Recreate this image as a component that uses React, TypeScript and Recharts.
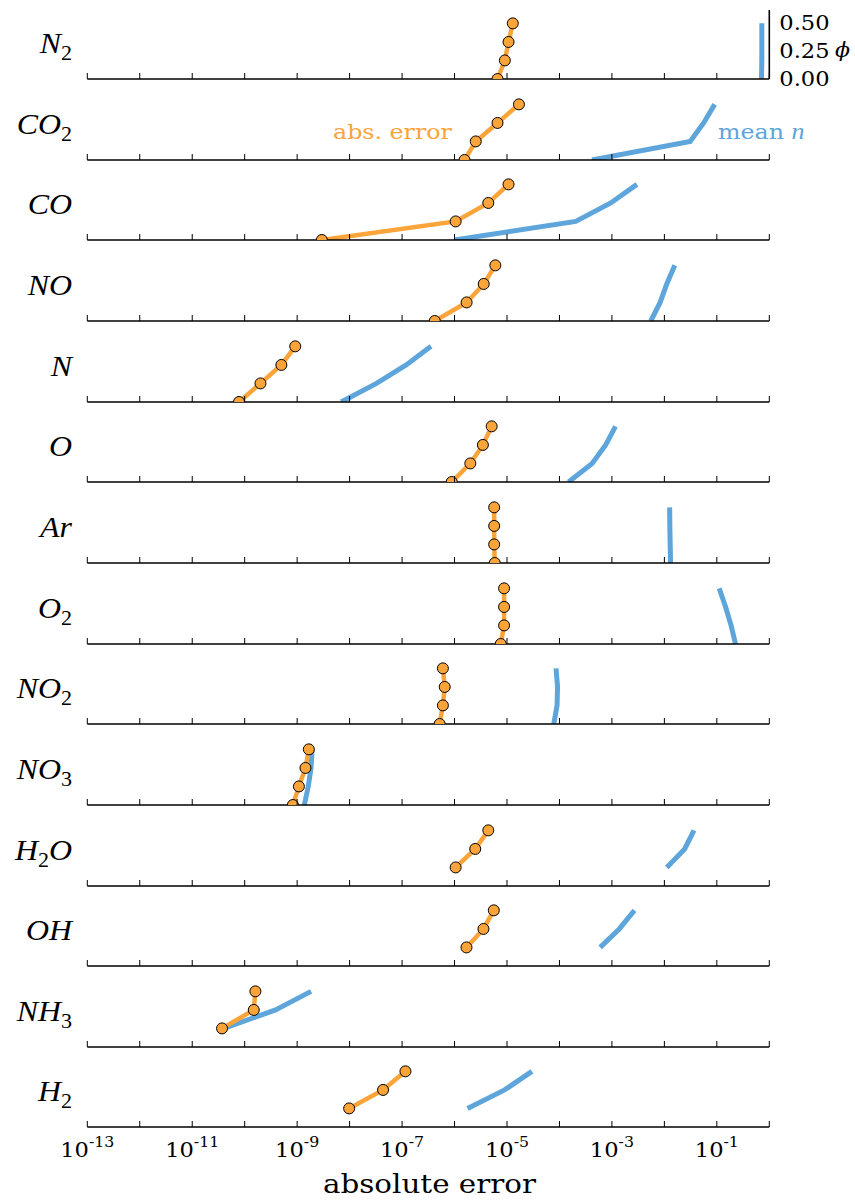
import React from 'react';
import { LineChart, Line, XAxis, YAxis } from 'recharts';

// ---------- data ----------
const species = ['N2', 'CO2', 'CO', 'NO', 'N', 'O', 'Ar', 'O2', 'NO2', 'NO3', 'H2O', 'OH', 'NH3', 'H2'];

const phiFull = [0, 0.167, 0.333, 0.5];
const phiUpper = [0.167, 0.333, 0.5];

// absolute error (orange)
const errN2 = [6.6e-6, 9.1e-6, 1.07e-5, 1.29e-5];
const errCO2 = [1.55e-6, 2.54e-6, 6.6e-6, 1.69e-5];
const errCO = [2.96e-9, 1.05e-6, 4.4e-6, 1.07e-5];
const errNO = [4.2e-7, 1.7e-6, 3.6e-6, 6.0e-6];
const errN = [7.8e-11, 2.0e-10, 5.0e-10, 9.2e-10];
const errO = [8.85e-7, 2.0e-6, 3.47e-6, 5.1e-6];
const errAr = [5.85e-6, 5.7e-6, 5.7e-6, 5.7e-6];
const errO2 = [7.6e-6, 8.8e-6, 8.8e-6, 8.8e-6];
const errNO2 = [5.2e-7, 6.0e-7, 6.5e-7, 6.0e-7];
const errNO3 = [8.3e-10, 1.08e-9, 1.44e-9, 1.67e-9];
const errH2O = [1.05e-6, 2.48e-6, 4.4e-6];
const errOH = [1.69e-6, 3.56e-6, 5.6e-6];
const errNH3 = [3.7e-11, 1.49e-10, 1.6e-10];
const errH2 = [9.8e-9, 4.34e-8, 1.16e-7];

// mean n (blue)
const nN2 = [0.71, 0.72, 0.72, 0.72];
const nCO2 = [4.17e-4, 0.031, 0.056, 0.091];
const nCO = [1.0e-6, 2.04e-4, 9.5e-4, 3.0e-3];
const nNO = [5.5e-3, 8.3e-3, 0.0111, 0.0158];
const nN = [6.9e-9, 3.25e-8, 1.2e-7, 3.56e-7];
const nO = [1.49e-4, 4.2e-4, 7.6e-4, 1.17e-3];
const nAr = [0.0131, 0.0129, 0.0127, 0.0126];
const nO2 = [0.227, 0.187, 0.147, 0.111];
const nNO2 = [7.8e-5, 9.0e-5, 9.2e-5, 8.6e-5];
const nNO3 = [1.37e-9, 1.63e-9, 1.84e-9, 1.93e-9];
const nH2O = [0.0111, 0.0244, 0.0367];
const nOH = [5.97e-4, 1.38e-3, 2.69e-3];
const nNH3 = [4.0e-11, 3.87e-10, 1.84e-9];
const nH2 = [1.77e-6, 9.0e-6, 2.99e-5];

const phiSets = [phiFull, phiFull, phiFull, phiFull, phiFull, phiFull, phiFull, phiFull, phiFull, phiFull, phiUpper, phiUpper, phiUpper, phiUpper];
const errSets = [errN2, errCO2, errCO, errNO, errN, errO, errAr, errO2, errNO2, errNO3, errH2O, errOH, errNH3, errH2];
const nSets = [nN2, nCO2, nCO, nNO, nN, nO, nAr, nO2, nNO2, nNO3, nH2O, nOH, nNH3, nH2];

const xTicks = [1e-13, 1e-12, 1e-11, 1e-10, 1e-9, 1e-8, 1e-7, 1e-6, 1e-5, 1e-4, 1e-3, 1e-2, 1e-1, 1];
const xTickExponents = ['-13', '', '-11', '', '-9', '', '-7', '', '-5', '', '-3', '', '-1', ''];
const yTicks = [0, 0.25, 0.5];
const yTickLabels = ['0.00', '0.25', '0.50'];

// ---------- style ----------
const ORANGE = '#FAA43A';
const BLUE = '#5DA5DA';
const SERIF = "'DejaVu Serif', serif";
const MATH = "'Liberation Serif', serif";
const SX = 1.13;

const W = 855;
const PLOT_L = 87.3;
const PLOT_R = 769.3;
const BASE0 = 79;
const STEP = 80.65;
const PH = 69;
const MT = 4;

const renderXTick = (props: any, showLabels: boolean) => {
  const { x, y, index } = props;
  const exp = xTickExponents[index];
  return (
    <g>
      <line x1={x} x2={x} y1={y} y2={y - 6} stroke="#000" strokeWidth={1} />
      {showLabels && exp !== '' && (
        <g transform={`translate(${x},${y + 29.5}) scale(${SX},1)`}>
          <text x={0} y={0} textAnchor="middle" fontFamily={SERIF} fontSize={20} fill="#000">
            10
            <tspan fontSize={14} dy={-10}>{exp}</tspan>
          </text>
        </g>
      )}
    </g>
  );
};

const renderYTick = (props: any) => {
  const { x, y, index } = props;
  return (
    <g transform={`translate(${x + 10},${y + 7}) scale(${SX},1)`}>
      <text x={0} y={0} textAnchor="start" fontFamily={SERIF} fontSize={20} fill="#000">
        {yTickLabels[index]}
      </text>
    </g>
  );
};

function Panel({ i }: { i: number }) {
  const isFirst = i === 0;
  const isLast = i === species.length - 1;
  const xh = isLast ? 50 : isFirst ? 14 : 2;
  const base = BASE0 + i * STEP;
  const top = base - PH - MT;
  const height = MT + PH + xh;
  const phi = phiSets[i];
  const errData = phi.map((f, k) => ({ x: errSets[i][k], y: f }));
  const nData = phi.map((f, k) => ({ x: nSets[i][k], y: f }));
  return (
    <div style={{ position: 'absolute', left: 0, top, width: W, height }}>
      <LineChart
        width={W}
        height={height}
        margin={{ top: MT, left: PLOT_L, right: isFirst ? W - PLOT_R - 60 : W - PLOT_R, bottom: 0 }}
      >
        <XAxis
          dataKey="x"
          type="number"
          scale="log"
          domain={[1e-13, 1]}
          allowDataOverflow
          ticks={xTicks}
          interval={0}
          tickSize={0}
          tickMargin={0}
          height={xh}
          axisLine={{ stroke: '#000', strokeWidth: 1.6 }}
          tickLine={false}
          tick={(p: any) => renderXTick(p, isLast)}
        />
        <YAxis
          type="number"
          domain={[0, 0.62]}
          allowDataOverflow
          hide={!isFirst}
          orientation="right"
          ticks={yTicks}
          interval={0}
          width={60}
          tickSize={0}
          tickMargin={0}
          axisLine={{ stroke: '#000', strokeWidth: 1.6 }}
          tickLine={false}
          tick={renderYTick}
        />
        <Line
          data={nData}
          dataKey="y"
          stroke={BLUE}
          strokeWidth={5}
          dot={false}
          activeDot={false}
          isAnimationActive={false}
        />
        <Line
          data={errData}
          dataKey="y"
          stroke={ORANGE}
          strokeWidth={4.5}
          dot={{ r: 5.5, fill: ORANGE, stroke: '#000', strokeWidth: 1 }}
          activeDot={false}
          isAnimationActive={false}
        />
      </LineChart>
    </div>
  );
}

function SpeciesLabel({ name, base }: { name: string; base: number }) {
  const parts = name.match(/[A-Za-z]+|\d+/g) || [];
  let prevSub = false;
  return (
    <g transform={`translate(72,${base - 26}) scale(1.1,1)`}>
      <text x={0} y={0} textAnchor="end" fontFamily={MATH} fontSize={29} fontStyle="italic" fill="#000">
        {parts.map((s, k) => {
          const isSub = /\d/.test(s);
          const dy = isSub ? 7 : prevSub ? -7 : 0;
          prevSub = isSub;
          return isSub ? (
            <tspan key={k} fontStyle="normal" fontSize={20} dy={dy}>{s}</tspan>
          ) : (
            <tspan key={k} dy={dy}>{s}</tspan>
          );
        })}
      </text>
    </g>
  );
}

export default function App() {
  const lastBase = BASE0 + (species.length - 1) * STEP;
  return (
    <div style={{ position: 'absolute', left: 0, top: 0, width: W, height: 1200, background: '#fff' }}>
      {species.map((s, i) => (
        <Panel key={s} i={i} />
      ))}
      <svg
        width={W}
        height={1200}
        style={{ position: 'absolute', left: 0, top: 0, pointerEvents: 'none' }}
      >
        {species.map((s, i) => (
          <SpeciesLabel key={s} name={s} base={BASE0 + i * STEP} />
        ))}
        <g transform={`translate(333,139.3) scale(${SX},1)`}>
          <text x={0} y={0} fontFamily={SERIF} fontSize={21} fill={ORANGE}>abs. error</text>
        </g>
        <g transform={`translate(718,139.3) scale(${SX},1)`}>
          <text x={0} y={0} fontFamily={SERIF} fontSize={21} fill={BLUE}>
            mean <tspan fontFamily={MATH} fontStyle="italic" fontSize={23}>n</tspan>
          </text>
        </g>
        <g transform={`translate(835,57) scale(1.05,1)`}>
          <text x={0} y={0} fontFamily={SERIF} fontStyle="italic" fontSize={21} fill="#000">ϕ</text>
        </g>
        <g transform={`translate(429.5,${lastBase + 66}) scale(${SX},1)`}>
          <text x={0} y={0} textAnchor="middle" fontFamily={SERIF} fontSize={26} fill="#000">absolute error</text>
        </g>
      </svg>
    </div>
  );
}
